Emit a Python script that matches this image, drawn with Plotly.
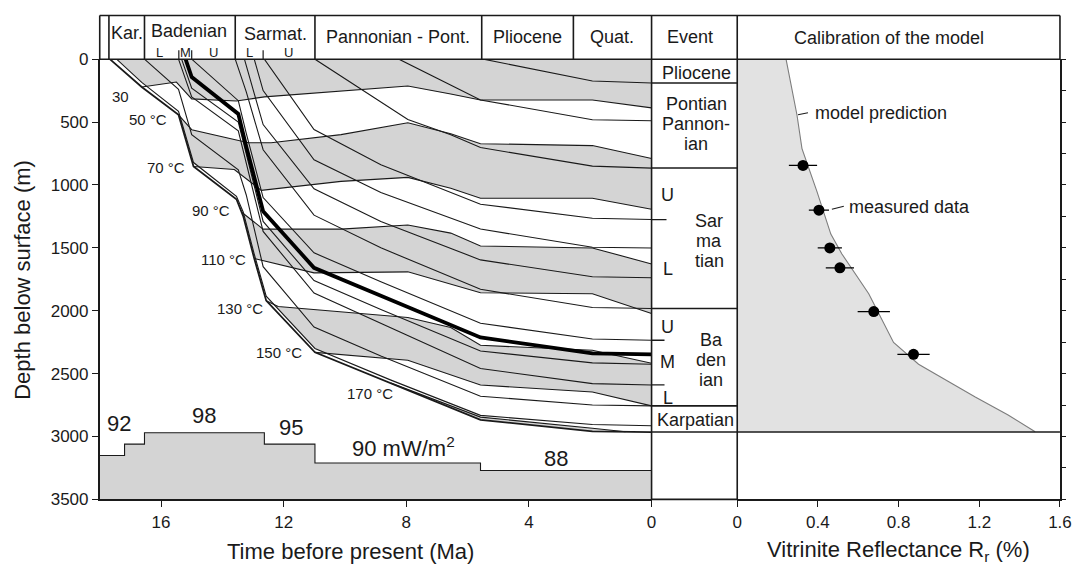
import plotly.graph_objects as go

W, H = 1072, 572
# measured photo mapping of this page (photo = S * figure + B), compensated below
SX, BX = 0.988, 2.9
SY, BY = 0.973, 6.5

# ---------------- stratigraphic header (Ma) ----------------
period_names = ["Kar.", "Badenian", "Sarmat.", "Pannonian - Pont.", "Pliocene", "Quat."]
period_bounds = [17.7, 16.54, 13.58, 10.98, 5.54, 2.55, 0.0]
badenian_sub = ["L", "M", "U"]
badenian_sub_t = [16.05, 15.2, 14.3]
badenian_ticks = [15.42, 15.0]
sarmat_sub = ["L", "U"]
sarmat_sub_t = [13.1, 11.85]
sarmat_ticks = [12.67]

# ---------------- burial curves of horizons (time Ma, depth m) ----------------
base_t = [17.67, 16.63, 15.43, 14.94, 13.54, 13.38, 13.32, 12.96, 12.57, 10.98, 8.5, 5.58, 1.93, 0]
base_d = [0, 221, 442, 853, 1114, 1215, 1248, 1585, 1920, 2331, 2576, 2868, 2960, 2965]
inner_t = [17.45, 16.63, 15.43, 14.94, 13.54, 13.38, 13.32, 12.96, 12.57, 10.98, 8.5, 5.58, 1.93, 0]
inner_d = [0, 185, 415, 822, 1090, 1185, 1215, 1550, 1885, 2300, 2552, 2832, 2905, 2915]
bad_base_t = [16.54, 15.43, 15.0, 13.48, 13.22, 12.67, 11.01, 8.83, 5.58, 1.93, 0]
bad_base_d = [0, 240, 600, 880, 1080, 1650, 2130, 2360, 2680, 2750, 2757]
bad_lm_t = [15.43, 15.0, 13.48, 13.22, 12.67, 11.01, 8.83, 5.58, 1.93, 0]
bad_lm_d = [0, 300, 570, 830, 1370, 1860, 2100, 2460, 2580, 2591]
bad_m2_t = [15.33, 15.0, 13.48, 13.22, 12.67, 11.01, 8.83, 5.58, 1.93, 0]
bad_m2_d = [0, 230, 500, 760, 1290, 1760, 1990, 2320, 2415, 2426]
well_t = [15.2, 15.0, 13.48, 13.22, 12.67, 11.01, 8.83, 5.58, 1.93, 0]
well_d = [0, 142, 435, 695, 1209, 1659, 1881, 2213, 2339, 2347]
bad_mu_t = [15.0, 13.48, 13.22, 12.67, 11.01, 8.83, 5.58, 1.93, 0]
bad_mu_d = [0, 330, 590, 1100, 1540, 1770, 2100, 2225, 2235]
sarm_base_t = [13.58, 13.22, 12.67, 11.01, 8.83, 5.58, 1.93, 0]
sarm_base_d = [0, 260, 720, 1240, 1500, 1830, 1975, 1983]
sarm_l2_t = [13.28, 12.67, 11.01, 8.83, 5.58, 1.93, 0]
sarm_l2_d = [0, 520, 1030, 1290, 1596, 1730, 1738]
sarm_l3_t = [12.96, 12.67, 11.01, 8.83, 5.58, 1.93, 0]
sarm_l3_d = [0, 250, 800, 1060, 1351, 1495, 1501]
sarm_lu_t = [12.63, 11.01, 8.83, 5.58, 1.93, 0]
sarm_lu_d = [0, 560, 840, 1153, 1265, 1275]
pann_base_t = [10.98, 7.95, 6.55, 5.58, 1.93, 0]
pann_base_d = [0, 480, 600, 703, 850, 866]
pont_t = [8.24, 5.58, 1.93, 0]
pont_d = [0, 324, 482, 490]
plio_base_t = [5.48, 1.93, 0]
plio_base_d = [0, 174, 190]

# ---------------- isotherms (time Ma, depth m) ----------------
iso_labels = ["30", "50 °C", "70 °C", "90 °C", "110 °C", "130 °C", "150 °C", "170 °C"]
iso30_t = [16.63, 15.50, 15.0, 13.54, 12.63, 7.95, 6.55, 5.58, 1.93, 0]
iso30_d = [221, 182, 316, 332, 300, 213, 277, 324, 324, 387]
iso50_t = [15.43, 15.0, 13.15, 12.41, 10.13, 7.95, 6.55, 5.58, 1.93, 0]
iso50_d = [442, 561, 664, 664, 600, 506, 593, 672, 687, 790]
iso70_t = [14.94, 13.61, 12.73, 10.13, 7.95, 6.55, 5.58, 1.93, 0]
iso70_d = [853, 877, 1043, 972, 940, 1027, 1106, 1106, 1193]
iso90_t = [13.38, 12.67, 10.13, 7.95, 6.55, 5.58, 1.93, 0]
iso90_d = [1215, 1351, 1351, 1319, 1383, 1485, 1501, 1628]
iso110_t = [12.96, 11.01, 7.95, 5.58, 1.93, 0]
iso110_d = [1585, 1699, 1691, 1857, 1865, 2023]
iso130_t = [12.57, 12.18, 7.95, 6.55, 5.58, 1.93, 0]
iso130_d = [1920, 1967, 2054, 2133, 2275, 2315, 2418]
iso150_t = [10.98, 7.95, 5.58, 1.93, 0]
iso150_d = [2331, 2394, 2591, 2647, 2757]
iso170_t = [8.5, 5.58, 1.93, 0.85]
iso170_d = [2576, 2846, 2935, 2963]

# ---------------- heat flow (mW/m2) ----------------
hf_t = [18, 17.19, 16.54, 12.63, 10.98, 5.58, 0]
hf_val = [92, 95, 98, 95, 90, 88, 88]

# ---------------- event column (present-day depth, m) ----------------
event_bounds = [0, 190, 865, 1983, 2757, 2965]
sarm_ul_depth = 1275
bad_um_depth = 2235
bad_ml_depth = 2590

# ---------------- calibration ----------------
model_ro = [0.242, 0.296, 0.321, 0.395, 0.464, 0.519, 0.652, 0.775, 0.899, 1.180, 1.343, 1.477]
model_depth = [0, 442, 711, 1051, 1391, 1549, 1865, 2252, 2426, 2686, 2829, 2963]
meas_ro = [0.326, 0.405, 0.459, 0.509, 0.677, 0.874]
meas_depth = [845, 1201, 1501, 1659, 2007, 2347]
meas_err = [0.07, 0.05, 0.06, 0.07, 0.08, 0.08]

# =============================================================
FONT = "Arial, Liberation Sans, Helvetica, sans-serif"
INK = "#1a1a1a"
GRAY = "rgb(212,212,212)"


def px(x):
    return ((x - BX) / SX) / W


def py(y):
    return 1 - ((y - BY) / SY) / H


fig = go.Figure()

isotherms = [(iso30_t, iso30_d), (iso50_t, iso50_d), (iso70_t, iso70_d), (iso90_t, iso90_d),
             (iso110_t, iso110_d), (iso130_t, iso130_d), (iso150_t, iso150_d), (iso170_t, iso170_d)]


def base_between(t_lo, t_hi):
    pts = sorted((t, d) for t, d in zip(base_t, base_d) if t_lo < t < t_hi)
    return [p[0] for p in pts], [p[1] for p in pts]


def band(up_t, up_d, lo_t, lo_d):
    bt, bd = base_between(lo_t[0], up_t[0])
    xs = list(up_t) + list(lo_t[::-1]) + bt + [up_t[0]]
    ys = list(up_d) + list(lo_d[::-1]) + bd + [up_d[0]]
    return xs, ys


# gray temperature bands
bands = [
    band([base_t[0], 0], [0, 0], iso30_t, iso30_d),
    band(iso50_t, iso50_d, iso70_t, iso70_d),
    band(iso90_t, iso90_d, iso110_t, iso110_d),
    band(iso130_t, iso130_d, iso150_t, iso150_d),
]
bt, bd = base_between(iso170_t[-1], iso170_t[0])
bands.append((list(iso170_t) + bt + [iso170_t[0]], list(iso170_d) + bd + [iso170_d[0]]))

for xs, ys in bands:
    fig.add_trace(go.Scatter(x=xs, y=ys, mode="lines", fill="toself", fillcolor=GRAY,
                             line=dict(width=0), hoverinfo="skip", xaxis="x", yaxis="y"))

# thin white layer between the two basal horizons (before 170 °C zone)
o_pts = [(t, d) for t, d in zip(base_t, base_d) if t >= iso170_t[0]]
i_pts = [(t, d) for t, d in zip(inner_t, inner_d) if t >= iso170_t[0]]
fig.add_trace(go.Scatter(x=[p[0] for p in o_pts] + [p[0] for p in i_pts[::-1]],
                         y=[p[1] for p in o_pts] + [p[1] for p in i_pts[::-1]],
                         mode="lines", fill="toself", fillcolor="white", line=dict(width=0),
                         hoverinfo="skip", xaxis="x", yaxis="y"))

# heat flow step
fig.add_trace(go.Scatter(x=hf_t, y=hf_val, mode="lines", line_shape="hv", fill="tozeroy",
                         fillcolor=GRAY, line=dict(color=INK, width=1.1),
                         xaxis="x", yaxis="y3", hoverinfo="skip"))

# isotherm lines
for t, d in isotherms:
    fig.add_trace(go.Scatter(x=t, y=d, mode="lines", line=dict(color=INK, width=1.1),
                             xaxis="x", yaxis="y", hoverinfo="skip"))

# horizon lines
horizons = [(inner_t, inner_d), (bad_base_t, bad_base_d), (bad_lm_t, bad_lm_d), (bad_m2_t, bad_m2_d),
            (bad_mu_t, bad_mu_d), (sarm_base_t, sarm_base_d), (sarm_l2_t, sarm_l2_d),
            (sarm_l3_t, sarm_l3_d), (sarm_lu_t, sarm_lu_d), (pann_base_t, pann_base_d),
            (pont_t, pont_d), (plio_base_t, plio_base_d)]
for t, d in horizons:
    fig.add_trace(go.Scatter(x=t, y=d, mode="lines", line=dict(color=INK, width=1.1),
                             xaxis="x", yaxis="y", hoverinfo="skip"))
fig.add_trace(go.Scatter(x=base_t, y=base_d, mode="lines", line=dict(color=INK, width=1.8),
                         xaxis="x", yaxis="y", hoverinfo="skip"))
fig.add_trace(go.Scatter(x=well_t, y=well_d, mode="lines", line=dict(color="black", width=3.8),
                         xaxis="x", yaxis="y", hoverinfo="skip"))

# calibration panel
fig.add_trace(go.Scatter(x=[0] + model_ro + [0], y=[0] + model_depth + [model_depth[-1]],
                         mode="lines", fill="toself", fillcolor="rgb(226,226,226)",
                         line=dict(width=0), xaxis="x2", yaxis="y2", hoverinfo="skip"))
fig.add_trace(go.Scatter(x=model_ro, y=model_depth, mode="lines",
                         line=dict(color="rgb(125,125,125)", width=1.1),
                         xaxis="x2", yaxis="y2", hoverinfo="skip"))
fig.add_trace(go.Scatter(x=meas_ro, y=meas_depth, mode="markers",
                         marker=dict(color="black", size=11),
                         error_x=dict(type="data", array=meas_err, color="black", thickness=1.3, width=0),
                         xaxis="x2", yaxis="y2", hoverinfo="skip"))

# ---------------- layout / axes ----------------
ydom = [py(500), py(57)]
axis_common = dict(showline=True, linecolor=INK, linewidth=1.6, ticks="outside", tickcolor=INK,
                   tickwidth=1.4, showgrid=False, zeroline=False,
                   tickfont=dict(family=FONT, size=17, color=INK))
hf_lo = 98 - (500 - 433) / 3.8
hf_hi = 98 + (433 - 57) / 3.8
fig.update_layout(
    width=W, height=H, margin=dict(l=0, r=0, t=0, b=0),
    paper_bgcolor="white", plot_bgcolor="rgba(0,0,0,0)", showlegend=False,
    font=dict(family=FONT, color=INK),
    xaxis=dict(domain=[px(98), px(652)], range=[18, 0], anchor="y",
               tickvals=[16, 12, 8, 4, 0], ticklen=6, **axis_common),
    yaxis=dict(domain=ydom, range=[3500, 0], anchor="x",
               tickvals=list(range(0, 3501, 500)), ticklen=6, **axis_common),
    yaxis3=dict(range=[hf_lo, hf_hi], overlaying="y", anchor="x", visible=False),
    xaxis2=dict(domain=[px(738), px(1062)], range=[0, 1.6], anchor="y2",
                tickvals=[0, 0.4, 0.8, 1.2, 1.6], ticktext=["0", "0.4", "0.8", "1.2", "1.6"],
                ticklabeloverflow="allow", ticklen=6, **axis_common),
    yaxis2=dict(domain=ydom, range=[3500, 0], anchor="x2", side="right",
                tickvals=list(range(0, 3501, 250)), showticklabels=False, ticklen=4, **axis_common),
)

shapes = []
LW = 1.6


def pline(x0, y0, x1, y1, w=LW):
    shapes.append(dict(type="line", xref="paper", yref="paper", x0=px(x0), y0=py(y0),
                       x1=px(x1), y1=py(y1), line=dict(color=INK, width=w)))


# header box and main verticals
pline(98, 13, 1062, 13)
pline(98, 57, 1062, 57)
pline(98, 13, 98, 57)
pline(1062, 13, 1062, 57)
pline(652, 13, 652, 500)
pline(738, 13, 738, 500)
pline(652, 500, 738, 500)
for tb in period_bounds[:-1]:
    shapes.append(dict(type="line", xref="x", yref="paper", x0=tb, x1=tb, y0=py(13), y1=py(57),
                       line=dict(color=INK, width=LW)))
for tb in badenian_ticks + sarmat_ticks:
    shapes.append(dict(type="line", xref="x", yref="paper", x0=tb, x1=tb, y0=py(48), y1=py(57),
                       line=dict(color=INK, width=1.2)))
# event column
for eb in event_bounds[1:-1]:
    shapes.append(dict(type="line", xref="paper", yref="y", x0=px(652), x1=px(738), y0=eb, y1=eb,
                       line=dict(color=INK, width=LW)))
shapes.append(dict(type="line", xref="paper", yref="y", x0=px(652), x1=px(1062),
                   y0=event_bounds[-1], y1=event_bounds[-1], line=dict(color=INK, width=LW)))
for dd, xe in [(sarm_ul_depth, 667), (bad_um_depth, 665), (bad_ml_depth, 665)]:
    shapes.append(dict(type="line", xref="paper", yref="y", x0=px(652), x1=px(xe), y0=dd, y1=dd,
                       line=dict(color=INK, width=1.3)))
# leader dashes
pline(799, 113, 809, 111, 1.1)
pline(833, 208, 845, 205, 1.1)
fig.update_layout(shapes=shapes)

ann = []


def text(x, y, s, size=16, xanchor="center", angle=0):
    ann.append(dict(x=px(x), y=py(y), xref="paper", yref="paper", text=s, showarrow=False,
                    xanchor=xanchor, yanchor="middle", textangle=angle,
                    font=dict(family=FONT, size=size, color=INK)))


# header labels
hdr_pos = [(125, 31), (188, 29), (274, 32), (397, 35), (527, 35), (612, 35)]
for name, (x, y) in zip(period_names, hdr_pos):
    text(x, y, name, 18)
for s, t in zip(badenian_sub + sarmat_sub, badenian_sub_t + sarmat_sub_t):
    ann.append(dict(x=t, y=py(50), xref="x", yref="paper", text=s, showarrow=False,
                    xanchor="center", yanchor="middle",
                    font=dict(family=FONT, size=13, color=INK)))
text(665, 35, "Event", 18, "left")
text(890, 36, "Calibration of the model", 18)

# event column labels
EF = 18
text(697, 71, "Pliocene", EF)
text(697, 102, "Pontian", EF)
text(697, 122, "Pannon-", EF)
text(697, 142, "ian", EF)
text(668, 194, "U", EF)
text(668, 268, "L", EF)
text(710, 220, "Sar", EF)
text(710, 240, "ma", EF)
text(710, 260, "tian", EF)
text(668, 327, "U", EF)
text(668, 362, "M", EF)
text(668, 398, "L", EF)
text(712, 340, "Ba", EF)
text(712, 360, "den", EF)
text(712, 380, "ian", EF)
text(696, 420, "Karpatian", EF)

# isotherm labels
iso_lab_pos = [(129, 95), (168, 118), (186, 166), (231, 209), (247, 259), (264, 308), (303, 352), (394, 393)]
for s, (x, y) in zip(iso_labels, iso_lab_pos):
    text(x, y, s, 15, "right")

# heat flow labels
text(117, 424, "92", 22)
text(203, 416, "98", 22)
text(290, 428, "95", 22)
text(349, 447, "90 mW/m<sup>2</sup>", 22, "left")
text(556, 459, "88", 22)

# calibration annotations
text(814, 111, "model prediction", 18, "left")
text(848, 206, "measured data", 18, "left")

# axis titles
text(21, 279, "Depth below surface (m)", 22, "center", -90)
text(224, 552, "Time before present (Ma)", 22, "left")
text(900, 552, "Vitrinite Reflectance R<sub>r</sub> (%)", 22)

fig.update_layout(annotations=ann)
fig.write_html("out.html")
